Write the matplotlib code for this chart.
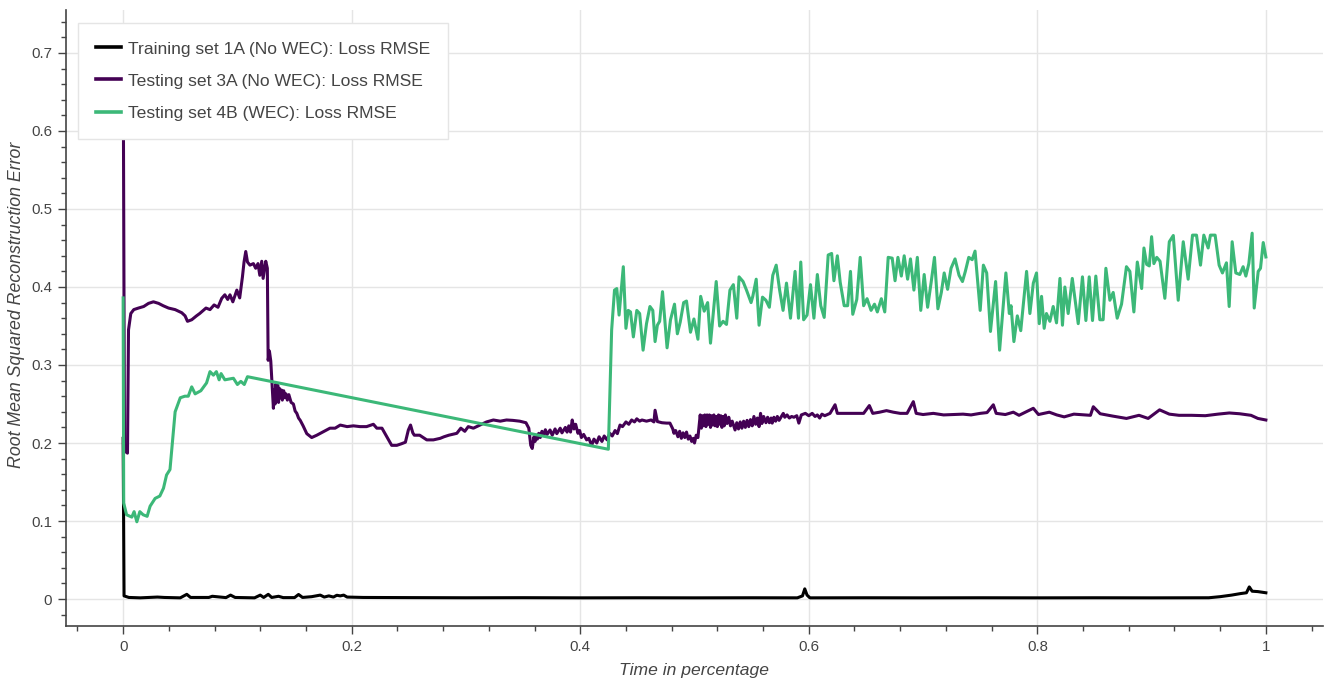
import matplotlib
matplotlib.use("Agg")
import matplotlib.pyplot as plt
from matplotlib.ticker import MultipleLocator, FuncFormatter

# ---------------- data ----------------
series_labels = [
    "Training set 1A (No WEC): Loss RMSE",
    "Testing set 3A (No WEC): Loss RMSE",
    "Testing set 4B (WEC): Loss RMSE",
]

# (time fraction, RMSE) pairs
train_points = [
    (0.0, 0.206), (0.0008, 0.004), (0.005, 0.002), (0.015, 0.0015), (0.03, 0.0025), (0.036, 0.002),
    (0.05, 0.0015), (0.0557, 0.006), (0.059, 0.002), (0.075, 0.002), (0.078, 0.0035), (0.09, 0.0018),
    (0.094, 0.005), (0.098, 0.002), (0.115, 0.0015), (0.12, 0.005), (0.123, 0.002), (0.127, 0.006),
    (0.13, 0.002), (0.136, 0.0035), (0.14, 0.0018), (0.15, 0.0018), (0.1535, 0.0058), (0.157, 0.002),
    (0.165, 0.003), (0.1725, 0.005), (0.176, 0.0025), (0.18, 0.004), (0.184, 0.0025), (0.187, 0.0048),
    (0.19, 0.004), (0.193, 0.005), (0.196, 0.0025), (0.21, 0.002), (0.25, 0.0018), (0.3, 0.0016),
    (0.35, 0.0017), (0.4, 0.0015), (0.45, 0.0016), (0.5, 0.0015), (0.55, 0.0016), (0.59, 0.0015),
    (0.5945, 0.004), (0.5965, 0.013), (0.5985, 0.005), (0.601, 0.0015), (0.65, 0.0016), (0.7, 0.0015),
    (0.75, 0.0016), (0.8, 0.0015), (0.85, 0.0016), (0.9, 0.0015), (0.95, 0.0016), (0.96, 0.003),
    (0.97, 0.005), (0.978, 0.007), (0.983, 0.008), (0.9855, 0.0155), (0.988, 0.01), (0.993, 0.0095),
    (1.0, 0.008),
]

test3a_points = [
    (0.0, 0.72), (0.0012, 0.19), (0.0038, 0.187), (0.0047, 0.345), (0.0067, 0.366), (0.0093, 0.371),
    (0.0134, 0.373), (0.018, 0.375), (0.0222, 0.379), (0.0265, 0.381), (0.031, 0.379), (0.035, 0.376),
    (0.0397, 0.373), (0.0455, 0.371), (0.0513, 0.367), (0.0542, 0.363), (0.0563, 0.356), (0.060, 0.358),
    (0.0642, 0.363), (0.067, 0.366), (0.0694, 0.369), (0.0725, 0.373), (0.076, 0.371), (0.0796, 0.377),
    (0.083, 0.374), (0.0863, 0.3855), (0.089, 0.39), (0.0915, 0.384), (0.0935, 0.39), (0.096, 0.381),
    (0.0995, 0.396), (0.102, 0.386), (0.1044, 0.413), (0.1058, 0.432), (0.1073, 0.4455), (0.1088, 0.432),
    (0.111, 0.428), (0.114, 0.43), (0.116, 0.424), (0.118, 0.43), (0.1196, 0.415), (0.1213, 0.433),
    (0.1225, 0.411), (0.1248, 0.433), (0.1262, 0.424),
    (0.1269, 0.306), (0.128, 0.318), (0.1292, 0.305), (0.1305, 0.27), (0.1315, 0.2445), (0.1322, 0.268),
    (0.133, 0.25), (0.1338, 0.276), (0.1345, 0.255), (0.1353, 0.274), (0.136, 0.252), (0.1368, 0.27),
    (0.1376, 0.258), (0.1385, 0.268), (0.1393, 0.255), (0.1405, 0.267), (0.1415, 0.258), (0.1425, 0.263),
    (0.1437, 0.255), (0.145, 0.262), (0.147, 0.252), (0.149, 0.25), (0.1505, 0.241), (0.152, 0.238),
    (0.1535, 0.232), (0.155, 0.229), (0.1575, 0.222), (0.1607, 0.212),
    (0.165, 0.207), (0.1695, 0.21), (0.1753, 0.2145), (0.181, 0.219), (0.1855, 0.219), (0.19, 0.223),
    (0.196, 0.221), (0.2015, 0.222), (0.2073, 0.221), (0.213, 0.221), (0.219, 0.224), (0.222, 0.219),
    (0.2265, 0.219), (0.2307, 0.208), (0.235, 0.197), (0.2395, 0.197), (0.2435, 0.199), (0.247, 0.201),
    (0.2496, 0.2167), (0.2515, 0.223), (0.2535, 0.213), (0.2548, 0.21), (0.2595, 0.21), (0.2657, 0.204),
    (0.2715, 0.204), (0.2775, 0.206), (0.2808, 0.208), (0.285, 0.21), (0.292, 0.2124), (0.2955, 0.219),
    (0.299, 0.215), (0.302, 0.221), (0.3065, 0.219), (0.3123, 0.223), (0.318, 0.227), (0.324, 0.2295),
    (0.33, 0.228), (0.3355, 0.2295), (0.341, 0.229), (0.347, 0.228), (0.3525, 0.226),
    (0.355, 0.219), (0.3567, 0.197), (0.358, 0.193), (0.3595, 0.208), (0.3605, 0.202), (0.3615, 0.21),
    (0.3625, 0.205), (0.3637, 0.2124), (0.365, 0.207), (0.3665, 0.215), (0.368, 0.21), (0.3695, 0.217),
    (0.371, 0.211), (0.3736, 0.2167), (0.3755, 0.21), (0.378, 0.218), (0.3795, 0.212), (0.3825, 0.219),
    (0.384, 0.213), (0.387, 0.22), (0.3885, 0.214), (0.39, 0.222), (0.3915, 0.214), (0.393, 0.2295),
    (0.3945, 0.218), (0.396, 0.224), (0.398, 0.2124), (0.3995, 0.216), (0.401, 0.207), (0.403, 0.211),
    (0.4056, 0.204), (0.4075, 0.206), (0.41, 0.197), (0.412, 0.205), (0.4145, 0.2), (0.4165, 0.208),
    (0.419, 0.202), (0.421, 0.209), (0.4235, 0.204), (0.4259, 0.2124), (0.428, 0.209), (0.4305, 0.216),
    (0.4325, 0.212), (0.4348, 0.223),
    (0.437, 0.221), (0.440, 0.227), (0.4425, 0.224), (0.445, 0.2295), (0.4475, 0.227), (0.4495, 0.231),
    (0.452, 0.228), (0.454, 0.2295), (0.458, 0.228), (0.462, 0.2295), (0.4645, 0.227), (0.4655, 0.242),
    (0.4675, 0.2275), (0.4715, 0.226), (0.4755, 0.2255), (0.4785, 0.2255), (0.481, 0.218),
    (0.482, 0.2124), (0.4835, 0.216), (0.4855, 0.208), (0.487, 0.215), (0.4885, 0.206), (0.49, 0.213),
    (0.4915, 0.207), (0.493, 0.214), (0.4945, 0.205), (0.496, 0.209), (0.4975, 0.202), (0.499, 0.206),
    (0.5, 0.2), (0.5015, 0.21), (0.503, 0.207), (0.504, 0.222), (0.505, 0.236), (0.506, 0.219),
    (0.507, 0.235), (0.508, 0.222), (0.509, 0.236), (0.510, 0.221), (0.511, 0.236), (0.512, 0.224),
    (0.513, 0.236), (0.514, 0.22), (0.515, 0.235), (0.516, 0.223), (0.517, 0.236), (0.518, 0.222),
    (0.519, 0.234), (0.520, 0.221), (0.521, 0.236), (0.522, 0.224), (0.523, 0.235), (0.524, 0.22),
    (0.525, 0.234), (0.526, 0.222), (0.527, 0.236), (0.5285, 0.225), (0.53, 0.233), (0.5315, 0.222),
    (0.533, 0.228), (0.5355, 0.2167), (0.537, 0.226), (0.5385, 0.218), (0.54, 0.227), (0.5415, 0.219),
    (0.543, 0.228), (0.5445, 0.22), (0.546, 0.229), (0.5475, 0.221), (0.549, 0.23), (0.5505, 0.222),
    (0.552, 0.234), (0.5535, 0.224), (0.555, 0.232), (0.5565, 0.221), (0.5578, 0.238), (0.559, 0.225),
    (0.5605, 0.234), (0.5625, 0.226), (0.564, 0.233), (0.5655, 0.226), (0.567, 0.232), (0.568, 0.2255),
    (0.5695, 0.233), (0.571, 0.228), (0.5725, 0.234), (0.574, 0.229), (0.5777, 0.238), (0.579, 0.233),
    (0.581, 0.236), (0.583, 0.232), (0.585, 0.234), (0.587, 0.233), (0.5895, 0.235), (0.5913, 0.2255),
    (0.5935, 0.236), (0.597, 0.238), (0.600, 0.235), (0.603, 0.238), (0.6055, 0.234), (0.6075, 0.236),
    (0.6095, 0.232), (0.6115, 0.237), (0.614, 0.235), (0.6186, 0.238), (0.623, 0.249), (0.625, 0.238),
    (0.631, 0.238), (0.6396, 0.238), (0.648, 0.238), (0.653, 0.248), (0.656, 0.238), (0.662, 0.2395),
    (0.668, 0.2415), (0.674, 0.2395), (0.68, 0.238), (0.686, 0.238), (0.6915, 0.253), (0.694, 0.238),
    (0.70, 0.2365), (0.709, 0.238), (0.718, 0.236), (0.727, 0.2365), (0.735, 0.237), (0.742, 0.236),
    (0.750, 0.238), (0.756, 0.239), (0.7615, 0.249), (0.764, 0.238), (0.772, 0.2365), (0.779, 0.2395),
    (0.784, 0.2355), (0.7965, 0.2445), (0.801, 0.2365), (0.8105, 0.2395), (0.817, 0.236),
    (0.8235, 0.2335), (0.832, 0.237), (0.8465, 0.2355), (0.849, 0.2465), (0.855, 0.2375),
    (0.866, 0.2345), (0.878, 0.2315), (0.889, 0.2355), (0.897, 0.2315), (0.907, 0.2425),
    (0.9155, 0.237), (0.924, 0.2355), (0.935, 0.2355), (0.947, 0.235), (0.958, 0.237), (0.968, 0.2385),
    (0.977, 0.2375), (0.987, 0.2355), (0.993, 0.2315), (1.0, 0.2295),
]

test4b_t = [0.0, 0.0005, 0.003, 0.0076, 0.0096, 0.012, 0.0146, 0.0175, 0.021, 0.0236, 0.028,
            0.0321, 0.0353, 0.038, 0.041, 0.0455, 0.05, 0.054, 0.057, 0.06, 0.063, 0.068, 0.073,
            0.076, 0.079, 0.0816, 0.084, 0.0857, 0.089, 0.0965, 0.1, 0.103, 0.106, 0.1088,
            0.4246,
            0.4275, 0.430, 0.432, 0.434, 0.4377, 0.44, 0.442, 0.444, 0.4465, 0.4495, 0.452, 0.455,
            0.458, 0.461, 0.4635, 0.4655, 0.4675, 0.4695, 0.472, 0.476, 0.479, 0.4825, 0.485,
            0.4875, 0.4905, 0.493, 0.4965, 0.4995, 0.503, 0.5054, 0.5085, 0.5115, 0.514, 0.519,
            0.522, 0.525, 0.528, 0.531, 0.534, 0.537, 0.539, 0.5425, 0.5455, 0.5495, 0.551, 0.554,
            0.5565, 0.5595, 0.5625, 0.5655, 0.5685, 0.5715, 0.5745, 0.5775, 0.5805, 0.584, 0.588,
            0.591, 0.593, 0.5955, 0.5985, 0.6015, 0.6045, 0.6075, 0.6105, 0.6135, 0.617, 0.62,
            0.622, 0.625, 0.6275, 0.631, 0.634, 0.6365, 0.6385, 0.642, 0.645, 0.648, 0.651, 0.6545,
            0.6575, 0.66, 0.6635, 0.6665, 0.6695, 0.673, 0.6755, 0.678, 0.681, 0.6835, 0.6865,
            0.689, 0.692, 0.695, 0.698, 0.701, 0.704, 0.707, 0.71, 0.713, 0.716, 0.7185, 0.7215,
            0.7245, 0.728, 0.7315, 0.7345, 0.737, 0.74, 0.743, 0.7455, 0.750, 0.7528, 0.7557,
            0.759, 0.7635, 0.767, 0.7725, 0.7755, 0.777, 0.7795, 0.7825, 0.7855, 0.7906, 0.7935,
            0.7965, 0.7993, 0.8017, 0.8037, 0.806, 0.808, 0.811, 0.8139, 0.8168, 0.8198, 0.822,
            0.8241, 0.827, 0.8306, 0.8358, 0.8395, 0.8425, 0.8454, 0.8483, 0.8512, 0.8547, 0.8576,
            0.86, 0.8635, 0.8664, 0.8699, 0.8737, 0.878, 0.881, 0.8845, 0.8875, 0.8913, 0.8933,
            0.8957, 0.898, 0.9, 0.902, 0.9045, 0.9074, 0.9116, 0.9155, 0.919, 0.9233, 0.9277,
            0.932, 0.9358, 0.9393, 0.9428, 0.9457, 0.9495, 0.9515, 0.9556, 0.9591, 0.962, 0.9655,
            0.9679, 0.9705, 0.9737, 0.9772, 0.9801, 0.9825, 0.9851, 0.988, 0.9898, 0.9933, 0.9953,
            0.9977, 1.0]
test4b_rmse = [0.386, 0.123, 0.108, 0.105, 0.112, 0.099, 0.112, 0.108, 0.106, 0.119, 0.129,
               0.132, 0.142, 0.159, 0.166, 0.240, 0.258, 0.26, 0.26, 0.272, 0.263, 0.267, 0.277,
               0.2915, 0.287, 0.2915, 0.281, 0.289, 0.281, 0.283, 0.275, 0.279, 0.275, 0.285,
               0.192,
               0.345, 0.396, 0.398, 0.364, 0.426, 0.347, 0.37, 0.368, 0.336, 0.37, 0.366, 0.319,
               0.353, 0.375, 0.37, 0.33, 0.351, 0.356, 0.394, 0.322, 0.358, 0.378, 0.34,
               0.355, 0.38, 0.382, 0.342, 0.359, 0.333, 0.388, 0.369, 0.38, 0.328, 0.407,
               0.35, 0.356, 0.352, 0.396, 0.403, 0.36, 0.413, 0.407, 0.396, 0.38, 0.388, 0.41,
               0.351, 0.387, 0.383, 0.374, 0.415, 0.428, 0.396, 0.37, 0.405, 0.36, 0.42,
               0.36, 0.432, 0.358, 0.364, 0.403, 0.36, 0.416, 0.376, 0.361, 0.441, 0.443,
               0.408, 0.44, 0.406, 0.376, 0.376, 0.42, 0.365, 0.384, 0.438, 0.376, 0.385, 0.37,
               0.378, 0.368, 0.385, 0.368, 0.438, 0.437, 0.408, 0.438, 0.414, 0.44, 0.41,
               0.436, 0.396, 0.438, 0.37, 0.416, 0.374, 0.405, 0.438, 0.372, 0.393, 0.418, 0.397,
               0.424, 0.436, 0.415, 0.407, 0.42, 0.438, 0.435, 0.446, 0.37, 0.428, 0.418,
               0.343, 0.407, 0.319, 0.418, 0.366, 0.376, 0.33, 0.363, 0.344, 0.42, 0.366,
               0.405, 0.418, 0.353, 0.388, 0.347, 0.366, 0.356, 0.375, 0.354, 0.411, 0.351,
               0.4, 0.366, 0.411, 0.353, 0.413, 0.357, 0.413, 0.357, 0.414, 0.358, 0.358,
               0.424, 0.383, 0.393, 0.36, 0.378, 0.426, 0.42, 0.368, 0.432, 0.398, 0.45,
               0.429, 0.427, 0.4645, 0.43, 0.438, 0.433, 0.3855, 0.458, 0.466, 0.383, 0.458,
               0.41, 0.4665, 0.4665, 0.428, 0.4665, 0.45, 0.4665, 0.4665, 0.428, 0.418, 0.431,
               0.375, 0.458, 0.418, 0.416, 0.426, 0.414, 0.43, 0.469, 0.373, 0.42, 0.424,
               0.457, 0.4385]

train_t, train_rmse = zip(*train_points)
test3a_t, test3a_rmse = zip(*test3a_points)

series_t = [train_t, test3a_t, test4b_t]
series_y = [train_rmse, test3a_rmse, test4b_rmse]
series_colors = ["#000000", "#440154", "#3cb878"]

x_label = "Time in percentage"
y_label = "Root Mean Squared Reconstruction Error"

# ---------------- figure ----------------
plt.rcParams["font.family"] = ["Liberation Sans", "DejaVu Sans"]
W, H = 1325, 682
fig = plt.figure(figsize=(W / 100, H / 100), dpi=100)
ax = fig.add_axes([66 / W, (H - 626) / H, (1323 - 66) / W, 616 / H])

for t, y, c, lab in zip(series_t, series_y, series_colors, series_labels):
    ax.plot(t, y, color=c, lw=2.2, label=lab, solid_joinstyle="round")

ax.set_xlim(-0.05, 1.05)
ax.set_ylim(-0.0346, 0.7551)

ax.xaxis.set_major_locator(MultipleLocator(0.2))
ax.xaxis.set_minor_locator(MultipleLocator(0.04))
ax.yaxis.set_major_locator(MultipleLocator(0.1))
ax.yaxis.set_minor_locator(MultipleLocator(0.02))
fmt = FuncFormatter(lambda v, p: f"{round(v, 6):g}")
ax.xaxis.set_major_formatter(fmt)
ax.yaxis.set_major_formatter(fmt)

ax.grid(True, which="major", color="#e5e5e5", lw=1.0)
ax.set_axisbelow(True)
for s in ["top", "right"]:
    ax.spines[s].set_visible(False)
for s in ["left", "bottom"]:
    ax.spines[s].set_color("#444444")
    ax.spines[s].set_linewidth(1.2)

ax.tick_params(which="major", direction="out", length=6, width=1.0,
               color="#444444", labelcolor="#444444", labelsize=10.8, pad=4)
ax.tick_params(which="minor", direction="out", length=3.9, width=1.0, color="#444444")

fig.text(694.5 / W, 1 - 670 / H, x_label, ha="center", va="center",
         fontsize=12.6, style="italic", color="#444444")
fig.text(17 / W, 1 - 305 / H, y_label, ha="center", va="center", rotation=90,
         fontsize=12.8, style="italic", color="#444444")

leg = ax.legend(loc="upper left", bbox_to_anchor=(0.0095, 0.979), borderaxespad=0,
                fontsize=12.6, frameon=True, fancybox=False, framealpha=1.0,
                edgecolor="#e5e5e5", facecolor="white", handlelength=1.4,
                handletextpad=0.4, labelspacing=0.96, borderpad=1.05)
leg.get_frame().set_linewidth(1.0)
for txt in leg.get_texts():
    txt.set_color("#444444")
for line in leg.get_lines():
    line.set_linewidth(2.6)

fig.savefig("out.png", dpi=100)
